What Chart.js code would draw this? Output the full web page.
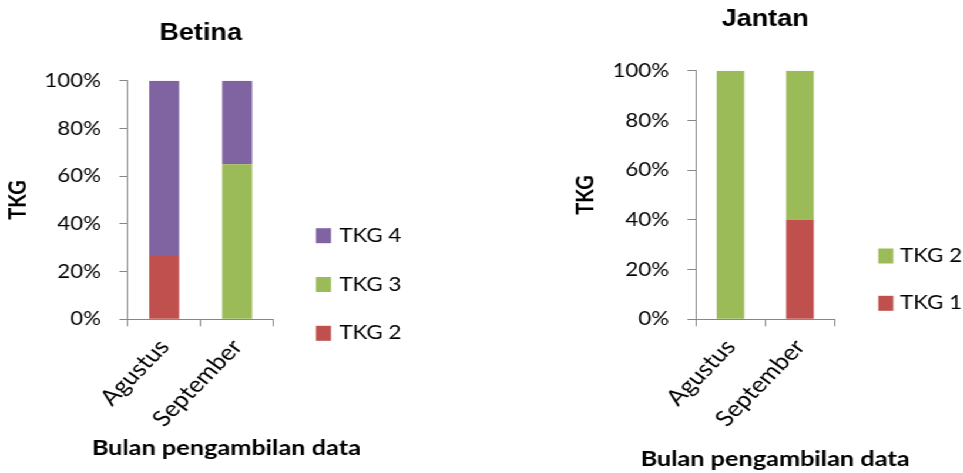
<!DOCTYPE html>
<html>
<head>
<meta charset="utf-8">
<script src="https://cdn.jsdelivr.net/npm/chart.js@4/dist/chart.umd.min.js"></script>
<style>
  html, body { margin: 0; padding: 0; background: #fff; overflow: hidden; }
  /* The two charts are laid out on a narrower stage that is widened horizontally */
  #stage { position: absolute; left: 0; top: 0; width: 820px; height: 473px;
           transform: scaleX(1.175); transform-origin: 0 0; }
  #stage canvas { position: absolute; top: 0; }
</style>
</head>
<body>
<div id="stage">
  <canvas id="betina" width="410" height="473" style="left:0px"></canvas>
  <canvas id="jantan" width="410" height="473" style="left:410px"></canvas>
</div>
<script>
// ---- data ----
const categories = ['Agustus', 'September'];
const yTickValues = [0, 20, 40, 60, 80, 100];

const betinaNames = ['TKG 2', 'TKG 3', 'TKG 4'];
const betinaTKG2 = [27, 0];
const betinaTKG3 = [0, 65];
const betinaTKG4 = [73, 35];

const jantanNames = ['TKG 1', 'TKG 2'];
const jantanTKG1 = [0, 40];
const jantanTKG2 = [100, 60];

// ---- styling ----
const RED = '#C0504D', GREEN = '#9BBB59', PURPLE = '#8064A2';
const AXIS = '#868686';
const TICK_FONT = { family: 'Lato, "Open Sans", sans-serif', size: 19 };
const MONTH_FONT = { family: 'Lato, "Open Sans", sans-serif', size: 22 };
const BOLD_FONT = { family: 'Lato, "Open Sans", sans-serif', size: 20, weight: 'bold' };

// Legend drawn to the right of the plot, top entry = top of the stack
const sideLegend = {
  id: 'sideLegend',
  afterDraw(chart, args, o) {
    const ctx = chart.ctx;
    const sets = chart.data.datasets.slice().reverse();
    ctx.save();
    ctx.font = o.font;
    ctx.textAlign = 'left';
    ctx.textBaseline = 'middle';
    sets.forEach((ds, i) => {
      const cy = o.y + i * o.gap;
      ctx.fillStyle = ds.backgroundColor;
      ctx.fillRect(o.boxX, cy - o.boxH / 2, o.boxW, o.boxH);
      ctx.fillStyle = '#000';
      ctx.fillText(ds.label, o.textX, cy);
    });
    ctx.restore();
  }
};

// Category axis caption under the rotated month labels
const axisCaption = {
  id: 'axisCaption',
  afterDraw(chart, args, o) {
    const ctx = chart.ctx;
    ctx.save();
    ctx.font = o.font;
    ctx.fillStyle = '#000';
    ctx.textAlign = 'center';
    ctx.textBaseline = 'middle';
    ctx.fillText(o.text, o.x, o.y);
    ctx.restore();
  }
};

function buildChart(id, p) {
  return new Chart(document.getElementById(id), {
    type: 'bar',
    data: { labels: categories, datasets: p.datasets },
    plugins: [sideLegend, axisCaption],
    options: {
      responsive: false,
      animation: false,
      events: [],
      layout: { padding: { left: 0, right: p.padRight, top: 0, bottom: 0 } },
      datasets: { bar: { categoryPercentage: 1, barPercentage: p.barPct, borderWidth: 0 } },
      scales: {
        x: {
          stacked: true,
          offset: true,
          grid: { offset: true, drawOnChartArea: false, drawTicks: true, tickLength: 7, color: AXIS },
          border: { color: AXIS, width: 1 },
          ticks: { minRotation: 50, maxRotation: 50, color: '#000', font: MONTH_FONT, padding: 8 },
          afterFit(s) { s.height = 473 - p.bottom; }
        },
        y: {
          stacked: true,
          min: 0, max: 100,
          afterBuildTicks(s) { s.ticks = yTickValues.map(v => ({ value: v })); },
          grid: { drawOnChartArea: false, drawTicks: true, tickLength: 7, color: AXIS },
          border: { color: AXIS, width: 1 },
          ticks: { color: '#000', font: TICK_FONT, padding: p.tickPad, callback: v => v + '%' },
          title: { display: true, text: 'TKG', color: '#000', font: BOLD_FONT,
                   padding: { top: p.yTitlePad, bottom: 0 } },
          afterFit(s) { s.width = p.axisX; }
        }
      },
      plugins: {
        legend: { display: false },
        tooltip: { enabled: false },
        title: {
          display: true, text: p.title, color: '#000', fullSize: false,
          font: { family: '"Liberation Sans", Arial, sans-serif', size: 23, weight: 'bold' },
          padding: { top: p.titleTop, bottom: p.titleBottom }
        },
        sideLegend: {
          font: '19px Lato, "Open Sans", sans-serif',
          boxX: p.legend.boxX, boxW: 12.8, boxH: 15, textX: p.legend.textX,
          y: p.legend.y, gap: p.legend.gap
        },
        axisCaption: {
          text: 'Bulan pengambilan data',
          font: 'bold 21.5px Lato, "Open Sans", sans-serif',
          x: p.caption.x, y: p.caption.y
        }
      }
    }
  });
}

buildChart('betina', {
  title: 'Betina',
  datasets: [
    { label: betinaNames[0], data: betinaTKG2, backgroundColor: RED },
    { label: betinaNames[1], data: betinaTKG3, backgroundColor: GREEN },
    { label: betinaNames[2], data: betinaTKG4, backgroundColor: PURPLE }
  ],
  barPct: 0.41,
  axisX: 108.7, padRight: 177.1, bottom: 319.3,
  tickPad: 15.7, yTitlePad: 4,
  titleTop: 20.2, titleBottom: 32.9,
  legend: { boxX: 268.9, textX: 288.8, y: 235.7, gap: 48.8 },
  caption: { x: 192.6, y: 448 }
});

buildChart('jantan', {
  title: 'Jantan',
  datasets: [
    { label: jantanNames[0], data: jantanTKG1, backgroundColor: RED },
    { label: jantanNames[1], data: jantanTKG2, backgroundColor: GREEN }
  ],
  barPct: 0.396,
  axisX: 182.1, padRight: 109.6, bottom: 319.3,
  tickPad: 15.5, yTitlePad: 77,
  titleTop: 6.2, titleBottom: 36.9,
  legend: { boxX: 337.5, textX: 356, y: 256, gap: 47.3 },
  caption: { x: 249.6, y: 459 }
});
</script>
</body>
</html>
